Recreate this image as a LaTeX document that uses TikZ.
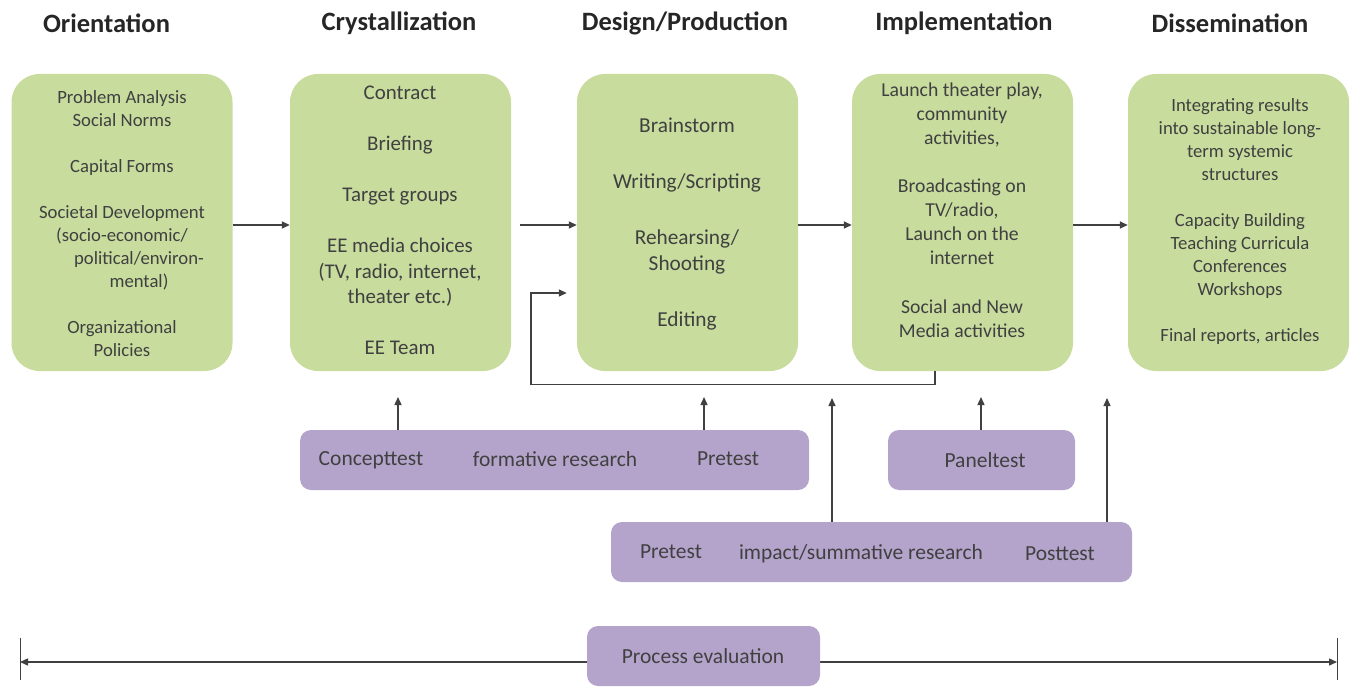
\documentclass[tikz,border=0pt]{standalone}
\usepackage{fontspec}
\setmainfont{Carlito}
\usetikzlibrary{arrows.meta,calc}
\definecolor{gbox}{HTML}{C8DC9E}
\definecolor{pbox}{HTML}{B4A4CB}
\definecolor{txt}{HTML}{404040}
\definecolor{hdr}{HTML}{262626}
\definecolor{ln}{HTML}{404040}
\tikzset{
  greenbox/.style={fill=gbox,draw=none,rounded corners=28pt,inner sep=0pt,minimum width=221pt,minimum height=297pt},
  purplebox/.style={fill=pbox,draw=none,rounded corners=11pt,inner sep=0pt,minimum height=60pt},
  hdrtext/.style={font=\fontsize{26.5}{30}\selectfont\bfseries,text=hdr},
  smalltxt/.style={font=\fontsize{18.7}{23}\selectfont,text=txt,align=center,inner sep=0pt},
  bigtxt/.style={font=\fontsize{20.9}{25.5}\selectfont,text=txt,align=center,inner sep=0pt},
  midtxt/.style={font=\fontsize{19.7}{24}\selectfont,text=txt,align=center,inner sep=0pt},
  ptxt/.style={font=\fontsize{21.5}{25}\selectfont,text=txt,inner sep=0pt},
  arr/.style={draw=ln,line width=1.4pt,-{Triangle[length=8pt,width=7pt]}},
}
\begin{document}
\begin{tikzpicture}[x=1pt,y=-1pt]
\useasboundingbox (0,0) rectangle (1351,687);
% headers
\node[hdrtext] (h1) at (106.5,23) {Orientation};
\node[hdrtext] (h2) at (399,23) {Crystallization};
\node[hdrtext] (h3) at (685,23) {Design/Production};
\node[hdrtext] (h4) at (964,23) {Implementation};
\node[hdrtext] (h5) at (1230,23) {Dissemination};
% green boxes
\node[greenbox] (b1) at (122,222.5) {};
\node[greenbox] (b2) at (400.5,222.5) {};
\node[greenbox] (b3) at (687.5,222.5) {};
\node[greenbox] (b4) at (962.5,222.5) {};
\node[greenbox] (b5) at (1238.5,222.5) {};
% box texts
\node[smalltxt] (t1) at (122,223.5) {Problem Analysis\\Social Norms\\[23pt]Capital Forms\\[23pt]Societal Development\\(socio-economic/\\\hspace*{34pt}political/environ-\\\hspace*{34pt}mental)\\[23pt]Organizational\\Policies};
\node[bigtxt] (t2) at (400,220.5) {Contract\\[25.5pt]Briefing\\[25.5pt]Target groups\\[25.5pt]EE media choices\\(TV, radio, internet,\\theater etc.)\\[25.5pt]EE Team};
\node[bigtxt,font=\fontsize{21.3}{26}\selectfont] (t3) at (687,224) {Brainstorm\\[30pt]Writing/Scripting\\[30pt]Rehearsing/\\Shooting\\[30pt]Editing};
\node[midtxt] (t4) at (962,210.5) {Launch theater play,\\community\\activities,\\[24pt]Broadcasting on\\TV/radio,\\Launch on the\\internet\\[25pt]Social and New\\Media activities};
\node[smalltxt] (t5) at (1240,221.5) {Integrating results\\into sustainable long-\\term systemic\\structures\\[23pt]Capacity Building\\Teaching Curricula\\Conferences\\Workshops\\[23pt]Final reports, articles};
% horizontal arrows
\draw[arr] (b1.east |- 0,225) -- (b2.west |- 0,225);
\draw[arr] ($(b2.east |- 0,225)+(9,0)$) -- (b3.west |- 0,225);
\draw[arr] (b3.east |- 0,225) -- (b4.west |- 0,225);
\draw[arr] (b4.east |- 0,225) -- (b5.west |- 0,225);
% feedback loop
\coordinate (fbtop) at ($(b3.west)+(-10,70.5)$);
\draw[arr] ($(b4.south)+(-27.5,0)$) -- ++(0,13) -| ($(fbtop)+(-36,0)$) -- (fbtop);
% purple boxes
\node[purplebox,minimum width=509pt] (p1) at (554.5,460) {};
\node[ptxt] (p1a) at (371,460) {Concepttest};
\node[ptxt] (p1b) at (555,459) {formative research};
\node[ptxt] (p1c) at (728,459) {Pretest};
\node[purplebox,minimum width=187pt] (p2) at (981.5,460) {};
\node[ptxt] (p2a) at (985,460) {Paneltest};
\node[purplebox,minimum width=521pt] (p3) at (871.5,552) {};
\node[ptxt] (p3a) at (671,552) {Pretest};
\node[ptxt] (p3b) at (861,554) {impact/summative research};
\node[ptxt] (p3c) at (1060,554) {Posttest};
% up arrows
\coordinate (u1) at (398,397);
\coordinate (u2) at (704,397);
\coordinate (u3) at (981,397);
\coordinate (u4) at (832,398);
\coordinate (u5) at (1107,398);
\draw[arr] (p1.north -| u1) -- (u1);
\draw[arr] (p1.north -| u2) -- (u2);
\draw[arr] (p2.north -| u3) -- (u3);
\draw[arr] (p3.north -| u4) -- (u4);
\draw[arr] (p3.north -| u5) -- (u5);
% process evaluation
\coordinate (le) at (20,662);
\coordinate (re) at (1337,662);
\draw[draw=ln,line width=0.8pt] (20,638) -- (20,680);
\draw[draw=ln,line width=0.8pt] (1337,638) -- (1337,680);
\draw[draw=ln,line width=1.4pt,{Triangle[length=8pt,width=7pt]}-{Triangle[length=8pt,width=7pt]}] (le) -- (re);
\node[purplebox,minimum width=233pt] (pe) at (703.5,656) {};
\node[ptxt] (pet) at (703,656) {Process evaluation};
\end{tikzpicture}
\end{document}
